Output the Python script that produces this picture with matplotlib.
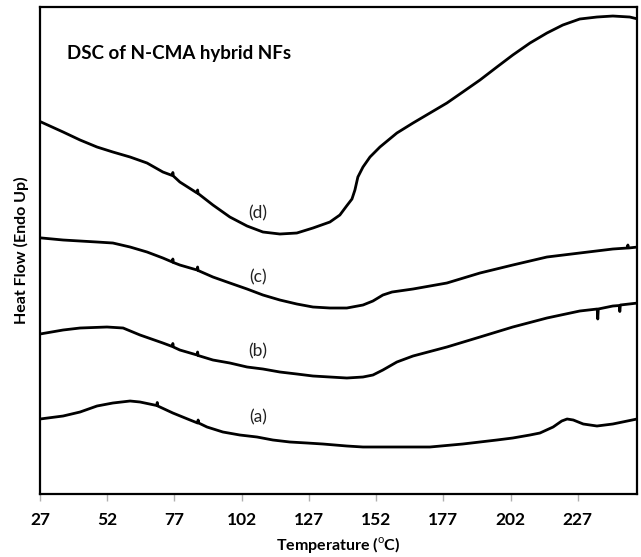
import numpy as np
import matplotlib.pyplot as plt

plt.rcParams['font.family'] = ['Lato', 'DejaVu Sans']
plt.rcParams['mathtext.fontset'] = 'custom'
plt.rcParams['mathtext.rm'] = 'Lato'

# Temperature (C) / heat flow (arbitrary units, offset curves)
temp_a = [27, 35.6, 41.9, 48.2, 54.1, 60.5, 64.2, 70.4, 70.6, 70.8, 76.4, 82.8, 85.6, 85.8, 86.0, 89.1,
          95.0, 101.3, 107.7, 113.6, 119.9, 126.3, 132.2, 141.1, 147.1, 159.7, 172.0, 184.2, 196.9,
          202.8, 209.2, 212.9, 217.8, 221.0, 223.0, 225.3, 229.0, 234.1, 240.0, 249]
flow_a = [7.5, 7.8, 8.2, 8.8, 9.1, 9.3, 9.2, 8.85, 9.15, 8.8, 8.1, 7.4, 7.1, 7.4, 7.1, 6.7,
          6.2, 5.9, 5.7, 5.4, 5.2, 5.1, 5.0, 4.8, 4.7, 4.7, 4.7, 5.0, 5.4,
          5.6, 5.9, 6.1, 6.7, 7.3, 7.5, 7.4, 7.0, 6.8, 7.0, 7.5]

temp_b = [27, 35.6, 41.9, 51.9, 57.9, 64.2, 72.7, 76.2, 76.4, 76.6, 79.0, 85.4, 85.6, 85.8, 91.3,
          97.6, 104.0, 109.9, 116.2, 122.5, 128.5, 134.8, 141.1, 147.1, 150.8, 154.5, 159.7, 165.7,
          178.3, 190.6, 202.8, 215.5, 227.7, 234.2, 234.4, 234.6, 240.0, 242.4, 242.6, 242.8, 249.3]
flow_b = [16.0, 16.4, 16.6, 16.7, 16.6, 15.9, 15.1, 14.75, 15.05, 14.7, 14.4, 13.9, 14.2, 13.85, 13.4,
          13.1, 12.7, 12.5, 12.2, 12.0, 11.8, 11.7, 11.6, 11.7, 11.9, 12.4, 13.2, 13.8,
          14.7, 15.7, 16.7, 17.6, 18.3, 18.5, 17.5, 18.5, 18.8, 18.85, 18.25, 18.9, 19.1]

temp_c = [27.7, 35.6, 48.2, 54.1, 60.5, 66.8, 72.7, 76.2, 76.4, 76.6, 79.0, 85.4, 85.6, 85.8, 91.3,
          97.6, 104.0, 109.9, 116.2, 122.5, 128.5, 134.8, 141.1, 147.1, 150.8, 154.5, 157.9, 165.7,
          178.3, 190.6, 202.8, 215.5, 227.7, 240.0, 245.4, 245.6, 245.8, 249.3]
flow_c = [25.6, 25.4, 25.2, 25.1, 24.7, 24.2, 23.6, 23.2, 23.5, 23.15, 22.9, 22.4, 22.7, 22.35, 21.7,
          21.1, 20.5, 19.9, 19.4, 19.0, 18.7, 18.6, 18.6, 18.9, 19.3, 19.9, 20.2, 20.5,
          21.1, 22.1, 22.9, 23.7, 24.1, 24.5, 24.6, 24.9, 24.6, 24.7]

temp_d = [27.4, 35.6, 41.9, 48.2, 54.1, 60.5, 66.8, 72.7, 76.2, 76.4, 76.6, 79.0, 85.4, 85.6, 85.8,
          91.3, 97.6, 104.0, 109.9, 116.2, 122.5, 128.5, 134.8, 138.5, 141.0, 143.0, 144.1, 145.2,
          147.1, 149.7, 153.4, 159.7, 165.7, 172.0, 178.3, 184.2, 190.6, 196.9, 202.8, 209.2, 215.5,
          221.4, 227.7, 234.1, 240.0, 246.3, 249.3]
flow_d = [37.2, 36.2, 35.4, 34.7, 34.2, 33.7, 33.1, 32.2, 31.85, 32.15, 31.8, 31.2, 30.1, 30.4, 30.05,
          28.9, 27.7, 26.8, 26.2, 26.0, 26.1, 26.6, 27.2, 27.9, 28.8, 29.5, 30.4, 31.7,
          32.7, 33.7, 34.7, 36.1, 37.1, 38.1, 39.1, 40.2, 41.4, 42.7, 43.9, 45.1, 46.1,
          46.9, 47.5, 47.7, 47.8, 47.7, 47.5]

series = [(temp_a, flow_a), (temp_b, flow_b), (temp_c, flow_c), (temp_d, flow_d)]
labels = ['(a)', '(b)', '(c)', '(d)']
label_temp = [108, 108, 108, 108]
label_flow = [7.7, 14.3, 21.7, 28.1]

xticks = [27, 52, 77, 102, 127, 152, 177, 202, 227]

fig = plt.figure(figsize=(6.41, 5.57), dpi=100)
ax = fig.add_axes([0.0624, 0.1131, 0.9314, 0.8743])

for t, f in series:
    ax.plot(t, f, color='black', lw=2.0, solid_joinstyle='round')

for lab, lt, lf in zip(labels, label_temp, label_flow):
    ax.text(lt, lf, lab, ha='center', va='center', fontsize=12.5, color='#222222')

ax.text(0.045, 0.905, 'DSC of N-CMA hybrid NFs', transform=ax.transAxes,
        fontsize=13.5, fontweight='bold', ha='left', va='center')

ax.set_xlim(27, 249)
ax.set_ylim(0, 48.7)
ax.set_xticks(xticks)
ax.set_xticklabels([str(x) for x in xticks], fontweight='bold', fontsize=12.5)
ax.set_yticks([])
ax.tick_params(axis='x', direction='out', length=5, width=1, color='#b0b0b0', pad=8)

for s in ax.spines.values():
    s.set_linewidth(1.6)
    s.set_color('black')

ax.set_xlabel(r'Temperature ($^{\mathrm{o}}$C)', fontweight='bold', fontsize=11.5, labelpad=5)
ax.set_ylabel('Heat Flow (Endo Up)', fontweight='bold', fontsize=11.5, labelpad=8)

fig.savefig('out.png', dpi=100)
